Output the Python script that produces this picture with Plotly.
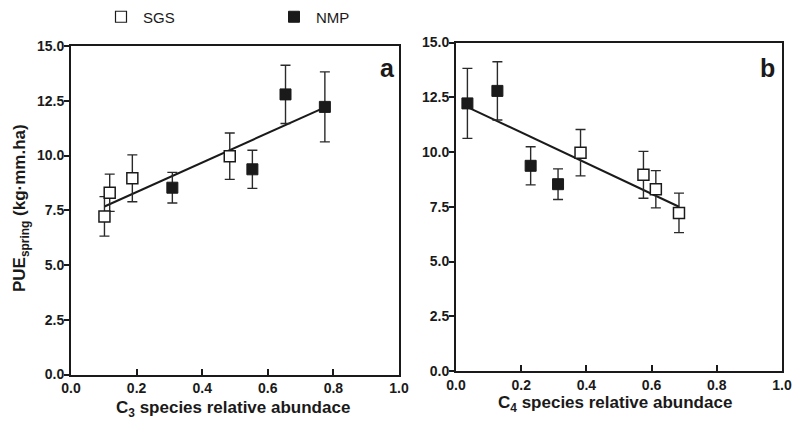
import plotly.graph_objects as go

# ---- data ----
sgs_c3 = [0.102, 0.118, 0.187, 0.484]
sgs_c4 = [0.684, 0.613, 0.575, 0.382]
sgs_pue = [7.22, 8.30, 8.96, 9.97]
sgs_err = [0.90, 0.85, 1.07, 1.06]

nmp_c3 = [0.309, 0.553, 0.654, 0.774]
nmp_c4 = [0.313, 0.229, 0.127, 0.035]
nmp_pue = [8.53, 9.37, 12.79, 12.22]
nmp_err = [0.70, 0.87, 1.33, 1.60]

fit_a_x = [0.102, 0.774]
fit_a_y = [7.67, 12.20]
fit_b_x = [0.035, 0.684]
fit_b_y = [12.05, 7.50]

x_ticks = [0.0, 0.2, 0.4, 0.6, 0.8, 1.0]
y_ticks = [0.0, 2.5, 5.0, 7.5, 10.0, 12.5, 15.0]

W, H = 793, 421
TXT = "#1a1a1a"
FONT = "Liberation Sans, Arial, sans-serif"

def px_x(p):
    return p / W

def px_y(p):
    return 1 - p / H

fig = go.Figure()

err_style = dict(type="data", thickness=1.4, width=5, color="#2a2a2a")
open_marker = dict(symbol="square", size=11, color="white", line=dict(color=TXT, width=1.5))
fill_marker = dict(symbol="square", size=11, color=TXT, line=dict(color=TXT, width=1))

# panel a
fig.add_trace(go.Scatter(x=fit_a_x, y=fit_a_y, mode="lines", line=dict(color=TXT, width=2),
                         showlegend=False, xaxis="x", yaxis="y"))
fig.add_trace(go.Scatter(x=sgs_c3, y=sgs_pue, mode="markers", name="SGS", marker=open_marker,
                         error_y=dict(array=sgs_err, **err_style), showlegend=False, xaxis="x", yaxis="y"))
fig.add_trace(go.Scatter(x=nmp_c3, y=nmp_pue, mode="markers", name="NMP", marker=fill_marker,
                         error_y=dict(array=nmp_err, **err_style), showlegend=False, xaxis="x", yaxis="y"))
# panel b
fig.add_trace(go.Scatter(x=fit_b_x, y=fit_b_y, mode="lines", line=dict(color=TXT, width=2),
                         showlegend=False, xaxis="x2", yaxis="y2"))
fig.add_trace(go.Scatter(x=sgs_c4, y=sgs_pue, mode="markers", name="SGS", marker=open_marker,
                         error_y=dict(array=sgs_err, **err_style), showlegend=False, xaxis="x2", yaxis="y2"))
fig.add_trace(go.Scatter(x=nmp_c4, y=nmp_pue, mode="markers", name="NMP", marker=fill_marker,
                         error_y=dict(array=nmp_err, **err_style), showlegend=False, xaxis="x2", yaxis="y2"))

# legend entries
fig.add_trace(go.Scatter(x=[None], y=[None], mode="markers", name="SGS",
                         marker=dict(symbol="square", size=11, color="white", line=dict(color=TXT, width=1.2)),
                         showlegend=True, xaxis="x", yaxis="y"))
fig.add_trace(go.Scatter(x=[None], y=[None], mode="markers", name="NMP",
                         marker=dict(symbol="square", size=11, color=TXT, line=dict(color=TXT, width=1)),
                         showlegend=True, xaxis="x", yaxis="y"))

tickfont = dict(family=FONT, size=14, color=TXT, weight="bold")
common_x = dict(range=[0, 1], tickvals=x_ticks, tickformat=".1f", ticks="inside", ticklen=6,
                tickwidth=1.5, tickcolor=TXT, showline=True, linewidth=2, linecolor=TXT,
                mirror=True, showgrid=False, zeroline=False, tickfont=tickfont, automargin=False)
common_y = dict(range=[0, 15], tickvals=y_ticks, tickformat=".1f", ticks="outside", ticklen=5,
                tickwidth=1.5, tickcolor=TXT, showline=True, linewidth=2, linecolor=TXT,
                mirror=True, showgrid=False, zeroline=False, tickfont=tickfont, automargin=False,
                ticklabelstandoff=-3)

fig.update_layout(
    width=W, height=H,
    margin=dict(l=0, r=0, t=0, b=0, autoexpand=False),
    paper_bgcolor="white", plot_bgcolor="white",
    font=dict(family=FONT, color=TXT),
    xaxis=dict(domain=[px_x(71), px_x(399)], anchor="y", **common_x),
    yaxis=dict(domain=[px_y(374.5), px_y(46)], anchor="x", **common_y),
    xaxis2=dict(domain=[px_x(456), px_x(782)], anchor="y2", **common_x),
    yaxis2=dict(domain=[px_y(371), px_y(42.5)], anchor="x2", **common_y),
    legend=dict(orientation="h", x=px_x(99), y=px_y(0.5), xanchor="left", yanchor="top",
                font=dict(family=FONT, size=15, color=TXT), entrywidth=124, itemwidth=34,
                entrywidthmode="pixels", bgcolor="rgba(0,0,0,0)"),
    showlegend=True,
)

annotations = [
    dict(text="<b>a</b>", x=px_x(387), y=px_y(68), xref="paper", yref="paper",
         xanchor="center", yanchor="middle",
         showarrow=False, font=dict(size=25, family=FONT, color=TXT)),
    dict(text="<b>b</b>", x=px_x(767), y=px_y(68), xref="paper", yref="paper",
         xanchor="center", yanchor="middle",
         showarrow=False, font=dict(size=25, family=FONT, color=TXT)),
    dict(text="<b>C<sub>3</sub> species relative abundace</b>", x=px_x(233), y=px_y(409),
         xref="paper", yref="paper", xanchor="center", yanchor="middle",
         showarrow=False, font=dict(size=17, family=FONT, color=TXT)),
    dict(text="<b>C<sub>4</sub> species relative abundace</b>", x=px_x(615), y=px_y(404),
         xref="paper", yref="paper", xanchor="center", yanchor="middle",
         showarrow=False, font=dict(size=17, family=FONT, color=TXT)),
    dict(text="<b>PUE<sub>spring</sub> (kg·mm.ha)</b>", x=px_x(21), y=px_y(208),
         xref="paper", yref="paper", xanchor="center", yanchor="middle",
         showarrow=False, textangle=-90,
         font=dict(size=17, family=FONT, color=TXT)),
]
fig.update_layout(annotations=annotations)

fig.write_html("out.html", config={"displayModeBar": False},
               post_script="document.body.style.margin='0';")
